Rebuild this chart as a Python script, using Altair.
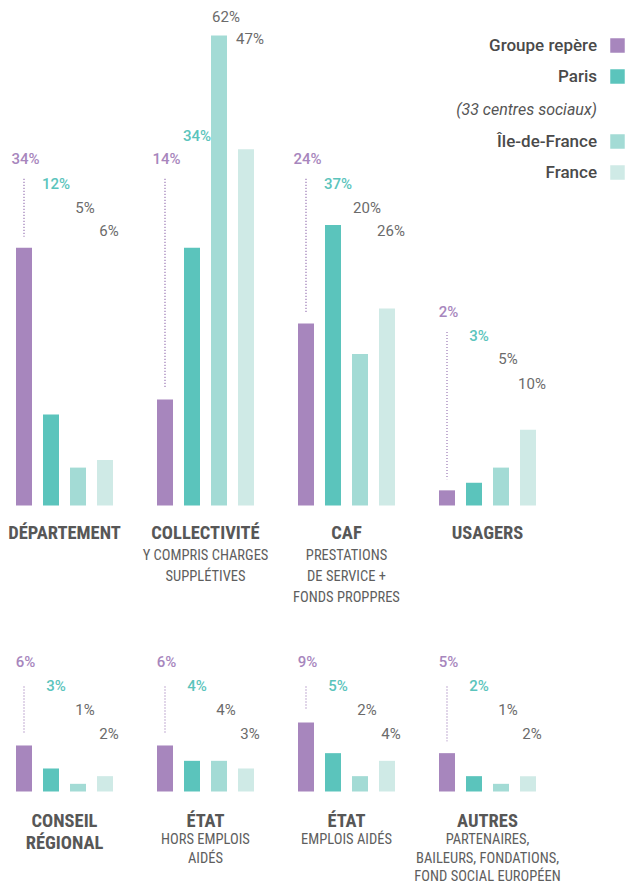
import altair as alt
import pandas as pd

SERIES = ["Groupe repère", "Paris", "Île-de-France", "France"]
COLORS = ["#a786bd", "#5bc4bc", "#a3dbd5", "#cfeae6"]
LABEL_COLORS = ["#a786bd", "#5bc4bc", "#6b6b6b", "#6b6b6b"]

ROW1_GROUPS = ["DÉPARTEMENT", "COLLECTIVITÉ", "CAF", "USAGERS"]
ROW1_SUBS = ["", "Y COMPRIS CHARGES\nSUPPLÉTIVES",
             "PRESTATIONS\nDE SERVICE +\nFONDS PROPPRES", ""]
ROW1_VALUES = [[34, 12, 5, 6], [14, 34, 62, 47], [24, 37, 20, 26], [2, 3, 5, 10]]

ROW2_GROUPS = ["CONSEIL\nRÉGIONAL", "ÉTAT", "ÉTAT", "AUTRES"]
ROW2_SUBS = ["", "HORS EMPLOIS\nAIDÉS", "EMPLOIS AIDÉS",
             "PARTENAIRES,\nBAILEURS, FONDATIONS,\nFOND SOCIAL EUROPÉEN"]
ROW2_VALUES = [[6, 3, 1, 2], [6, 4, 4, 3], [9, 5, 2, 4], [5, 2, 1, 2]]

LEGEND_NOTE = "(33 centres sociaux)"

# annotation placement: level of each value label, in the row's % units
ROW1_LABEL_AT = [[45.7, 42.4, 39.2, 36.2], [45.7, 48.7, 64.4, 61.5],
                 [45.7, 42.4, 39.2, 36.2], [25.5, 22.4, 19.3, 16.0]]
ROW2_LABEL_AT = [[16.9, 13.8, 10.6, 7.5]] * 4

COND = "Roboto Condensed, Liberation Sans Narrow, DejaVu Sans Condensed, Roboto, sans-serif"
REG = "Roboto, Lato, sans-serif"
W, H = 618, 877


def frames(groups, subs, values, label_at):
    rows, grows = [], []
    for gi, g in enumerate(groups):
        grows.append({"slot": gi + 1, "title": g, "sub": subs[gi], "base": 0})
        for si, s in enumerate(SERIES):
            rows.append({"slot": gi + 1, "series": s, "value": values[gi][si],
                         "label_at": label_at[gi][si], "label": f"{values[gi][si]}%"})
    return pd.DataFrame(rows), pd.DataFrame(grows)


X_SCALE = alt.Scale(domain=[1, 2, 3, 4], paddingInner=0.312, paddingOuter=0.3475,
                    align=0.0816, round=False)
XO_SCALE = alt.Scale(domain=SERIES, paddingInner=0.407, paddingOuter=0, round=False)
COLOR_SCALE = alt.Scale(domain=SERIES, range=COLORS)


def row_chart(df, gdf, ydomain, rule_up, rule_down, title_dy, sub_dy, sub_lh):
    ys = alt.Scale(domain=ydomain, nice=False, zero=False)
    x = alt.X("slot:O", scale=X_SCALE, axis=None)
    xo = alt.XOffset("series:N", scale=XO_SCALE, sort=SERIES)
    base = alt.Chart(df)
    bars = base.mark_bar(width=16).encode(
        x=x, xOffset=xo,
        y=alt.Y("value:Q", scale=ys, axis=None),
        y2=alt.Y2(datum=0),
        color=alt.Color("series:N", scale=COLOR_SCALE, legend=None),
    )
    rule = base.transform_filter(alt.datum.series == SERIES[0]).transform_calculate(
        top=f"datum.label_at - {rule_up}", bottom=f"datum.value + {rule_down}"
    ).mark_rule(color="#9b78b5", strokeDash=[1.2, 1.8], strokeWidth=1.2).encode(
        x=x, xOffset=xo,
        y=alt.Y("top:Q", scale=ys, axis=None), y2="bottom:Q",
    )
    labels = []
    dxs = [1.5, 5, 7, 4]
    for si, s in enumerate(SERIES):
        labels.append(base.transform_filter(alt.datum.series == s).mark_text(
            font=REG, fontSize=15, color=LABEL_COLORS[si], baseline="middle",
            dx=dxs[si], fontWeight=500 if si < 2 else 400,
        ).encode(x=x, xOffset=xo, y=alt.Y("label_at:Q", scale=ys, axis=None), text="label:N"))
    gbase = alt.Chart(gdf)
    titles = gbase.mark_text(
        font=COND, fontSize=18.5, fontWeight="bold", color="#575757",
        baseline="alphabetic", dy=title_dy, lineBreak="\n", lineHeight=22,
    ).encode(x=x, y=alt.Y("base:Q", scale=ys, axis=None), text="title:N")
    subs = gbase.mark_text(
        font=COND, fontSize=14.5, fontWeight=400, color="#5e5e5e",
        baseline="alphabetic", dy=sub_dy, lineBreak="\n", lineHeight=sub_lh,
    ).encode(x=x, y=alt.Y("base:Q", scale=ys, axis=None), text="sub:N")
    return alt.layer(bars, rule, *labels, titles, subs)


df1, g1 = frames(ROW1_GROUPS, ROW1_SUBS, ROW1_VALUES, ROW1_LABEL_AT)
df2, g2 = frames(ROW2_GROUPS, ROW2_SUBS, ROW2_VALUES, ROW2_LABEL_AT)

# row 1: baseline at y=497.5 px in plot, 7.58 px per point
k1, b1 = 7.58, 497.5
row1 = row_chart(df1, g1, [-(H - b1) / k1, -(H - b1) / k1 + H / k1], 2.6, 1.45, 33, 54, 21)
k2, b2 = 7.67, 783.5
row2 = row_chart(df2, g2, [-(H - b2) / k2, -(H - b2) / k2 + H / k2], 3.2, 1.55, 35.5, 52.5, 18.5)

# custom legend (top right)
leg = []
LEG_TEXT_Y = [38, 69, 134, 165]
for i, s in enumerate(SERIES):
    d = pd.DataFrame({"t": [s]})
    leg.append(alt.Chart(d).mark_text(
        font=REG, fontSize=17, fontWeight=500, color="#4a4a4a", align="right", baseline="middle"
    ).encode(x=alt.value(589), y=alt.value(LEG_TEXT_Y[i]), text="t:N"))
    leg.append(alt.Chart(d).mark_square(size=210, color=COLORS[i], opacity=1, filled=True).encode(
        x=alt.value(609.5), y=alt.value(LEG_TEXT_Y[i] - 0.5)))
leg.append(alt.Chart(pd.DataFrame({"t": [LEGEND_NOTE]})).mark_text(
    font=REG, fontSize=16, fontStyle="italic", color="#555555", align="right", baseline="middle"
).encode(x=alt.value(589), y=alt.value(102), text="t:N"))

chart = alt.layer(row1, row2, *leg).resolve_scale(y="independent").properties(
    width=W, height=H, autosize=alt.AutoSizeParams(type="none"), padding=0
).configure_view(stroke=None)

chart.save("out.html", embed_options={"renderer": "svg", "actions": False})
